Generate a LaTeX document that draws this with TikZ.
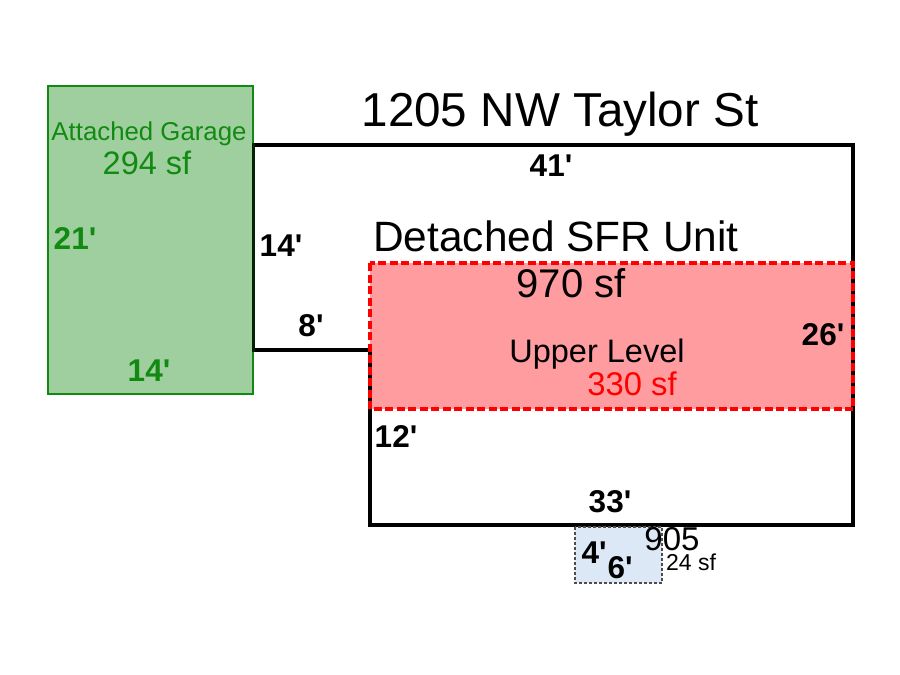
\documentclass[tikz,border=0pt]{standalone}
\usepackage{fontspec}
\setmainfont{Liberation Sans}
\definecolor{garagefill}{HTML}{A0CF9F}
\definecolor{garageline}{HTML}{118A11}
\definecolor{upperfill}{HTML}{FF9C9F}
\definecolor{porchfill}{HTML}{DCE8F5}
\newcommand{\ft}{\textquotesingle}
\begin{document}
\begin{tikzpicture}[
		x=1pt,y=-1pt,
		wall/.style={line width=4pt, line join=miter},
		dim/.style={font={\fontsize{31.5}{31.5}\selectfont\bfseries}, inner sep=0pt},
		label/.style={inner sep=0pt}
		]
		
		\useasboundingbox (0,0) rectangle (900,675);
		
		\fill[upperfill] (370,263) rectangle (853,409);
		
		\draw[wall] (253,145) -- (853,145) -- (853,525) -- (370,525) -- (370,350) -- (253,350);
		
		\filldraw[fill=garagefill, draw=garageline, line width=2pt] (48,86) rectangle (253,394);
		\draw[line width=3pt, draw=black!75!garageline] (253,143) -- (253,352);
		
		\draw[draw=red, line width=3.2pt, dash pattern=on 8pt off 3.5pt] (370,263) rectangle (853,409);
		
		\filldraw[fill=porchfill, draw=black!70, line width=1.4pt, densely dashed] (575,527) rectangle (662,583);
		
		%%%%%%%%%%
		
		\node[label, font={\fontsize{47.6}{47.6}\selectfont}] (title) at (560,114) {1205 NW Taylor St};
		\node[dim] (top) at (551,166) {41\ft};
		
		\node[label, text=garageline, font={\fontsize{25.8}{25.8}\selectfont}] (garage) at (149,134) {Attached Garage};
		\node[label, text=garageline, font={\fontsize{32.5}{32.5}\selectfont}] (garagearea) at (147,163) {294 sf};
		\node[dim, text=garageline] (garageleft) at (75,238) {21\ft};
		\node[dim, text=garageline] (garagebottom) at (149,371) {14\ft};
		
		\node[dim] (wallleft) at (281,246) {14\ft};
		\node[dim] (wallstep) at (311,326) {8\ft};
		
		\node[label, font={\fontsize{42.4}{42.4}\selectfont}] (unit) at (556,236) {Detached SFR Unit};
		\node[label, font={\fontsize{40}{40}\selectfont}] (unitarea) at (571,283) {970 sf};
		\node[label, font={\fontsize{32.5}{32.5}\selectfont}] (upper) at (597,354) {Upper Level};
		\node[label, text=red, font={\fontsize{32.8}{32.8}\selectfont}] (upperarea) at (632,384) {330 sf};
		\node[dim] (right) at (823,335) {26\ft};
		
		\node[dim] (lower) at (396,436) {12\ft};
		\node[dim] (bottom) at (610,502) {33\ft};
		
		\node[dim] (porchleft) at (594,553) {4\ft};
		\node[dim] (porchbottom) at (620,568) {6\ft};
		\node[label, font={\fontsize{33}{33}\selectfont}] (number) at (672,539) {905};
		\node[label, font={\fontsize{23}{23}\selectfont}] (porcharea) at (691,562) {24 sf};
		
	\end{tikzpicture}
\end{document}
